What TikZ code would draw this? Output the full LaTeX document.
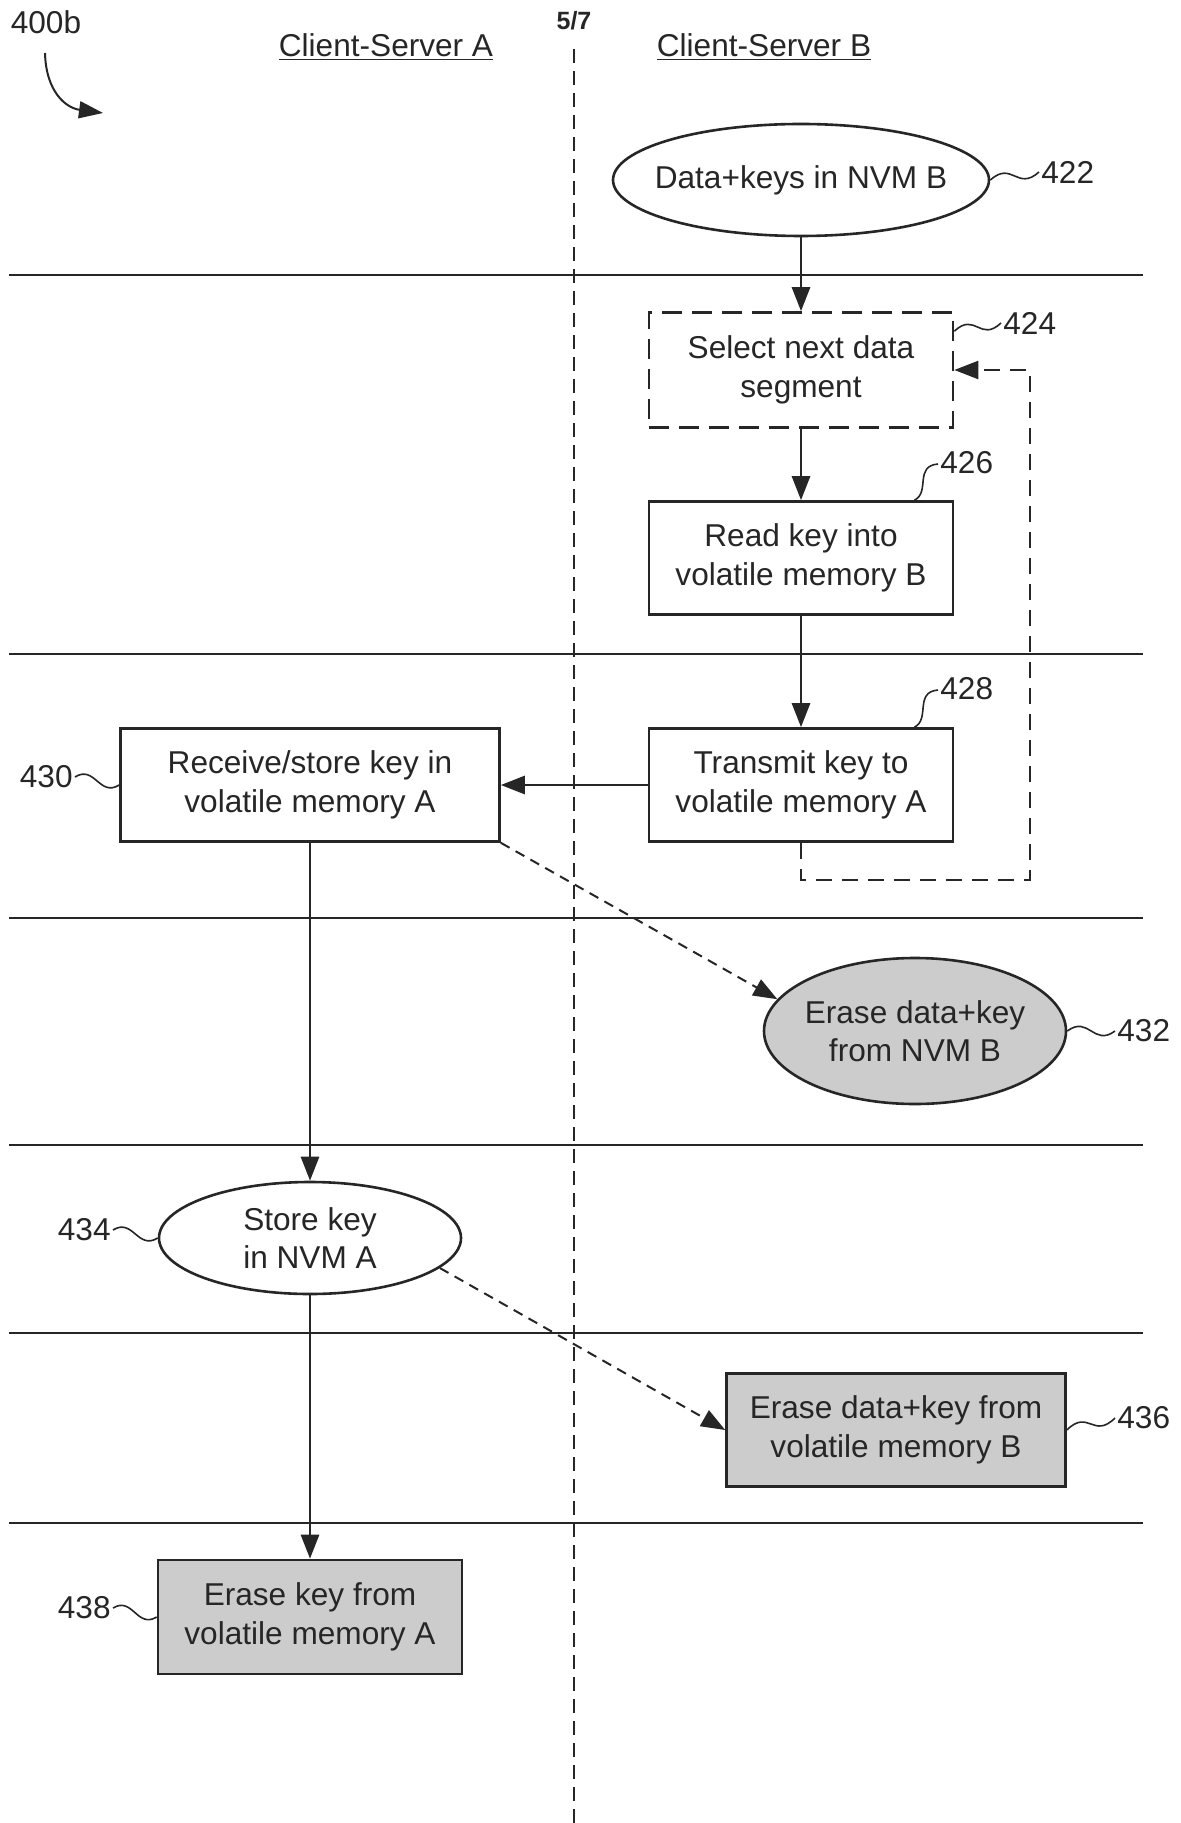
\documentclass[tikz,border=0pt]{standalone}
\usepackage{fontspec}
\setmainfont{Liberation Sans}
\usetikzlibrary{arrows.meta,shapes.geometric,calc}
\begin{document}
\begin{tikzpicture}[x=0.5pt,y=-0.5pt,
  every node/.style={font=\fontsize{15.8}{19.2}\selectfont, text=black!85, align=center},
  box/.style={draw=black!85, line width=1.3pt, rectangle, inner sep=0pt, minimum height=56.5pt},
  oval/.style={draw=black!85, line width=1.3pt, ellipse, inner xsep=-10pt, inner ysep=0pt},
  shaded/.style={fill=gray!40},
  flow/.style={draw=black!85, line width=1.4pt, -{Triangle[length=12pt,width=9pt]}},
  dflow/.style={draw=black!85, line width=1pt, dash pattern=on 5pt off 3.5pt, -{Triangle[length=12pt,width=9pt]}},
  loopflow/.style={draw=black!85, line width=1.2pt, dash pattern=on 8pt off 5pt, -{Triangle[length=12pt,width=9pt]}},
  sep/.style={draw=black!85, line width=1.1pt},
  lane/.style={draw=black!85, line width=0.6pt, dash pattern=on 7pt off 4pt},
  squig/.style={draw=black!85, line width=0.8pt},
  tag/.style={inner sep=0pt}
]
\useasboundingbox (0,0) rectangle (1180,1823);

% headers
\node[tag] (t400) at (46,22) {400b};
\node[tag] (pg) at (574,21) {\fontsize{12.5}{14}\selectfont\bfseries 5/7};
\node[tag] (hA) at (386,47) {\underline{Client-Server A}};
\node[tag] (hB) at (764,47) {\underline{Client-Server B}};
\coordinate (a400s) at (45,53);
\coordinate (a400e) at (103,113);
\draw[flow, line width=1pt, -{Triangle[length=12pt,width=8.5pt]}] (a400s) .. controls (46,92) and (66,108) .. (a400e);

% lanes
\coordinate (laneT) at (574,49);
\coordinate (laneB) at (574,1823);
\draw[lane] (laneT) -- (laneB);
\foreach \yy in {275,654,918,1145,1333,1523} {
  \draw[sep] (9,\yy) -- (1143,\yy);
}

% nodes
\node[oval, fill=white, minimum width=188pt, minimum height=56pt] (n422) at (801,180) {Data+keys in NVM B};
\node[box, fill=white, dash pattern=on 10pt off 5pt, minimum width=152pt, minimum height=57.5pt] (n424) at (801,370) {Select next data\\segment};
\node[box, fill=white, minimum width=152pt] (n426) at (801,558) {Read key into\\volatile memory B};
\node[box, fill=white, minimum width=152pt] (n428) at (801,785) {Transmit key to\\volatile memory A};
\node[box, fill=white, minimum width=189.5pt] (n430) at (310,785) {Receive/store key in\\volatile memory A};
\node[oval, shaded, minimum width=151pt, minimum height=73pt] (n432) at (915,1031) {Erase data+key\\from NVM B};
\node[oval, fill=white, minimum width=151pt, minimum height=56pt] (n434) at (310,1238) {Store key\\in NVM A};
\node[box, shaded, minimum width=169.5pt] (n436) at (896,1430) {Erase data+key from\\volatile memory B};
\node[box, shaded, minimum width=152pt, minimum height=57pt] (n438) at (310,1617) {Erase key from\\volatile memory A};

% reference labels
\node[tag, anchor=west] (l422) at (1041,172) {422};
\node[tag, anchor=west] (l424) at (1003,323) {424};
\node[tag, anchor=west] (l426) at (940,463) {426};
\node[tag, anchor=west] (l428) at (940,689) {428};
\node[tag, anchor=east] (l430) at (73,777) {430};
\node[tag, anchor=west] (l432) at (1117,1031) {432};
\node[tag, anchor=east] (l434) at (111,1230) {434};
\node[tag, anchor=west] (l436) at (1117,1418) {436};
\node[tag, anchor=east] (l438) at (111,1608) {438};

\newcommand\wavy[2]{\draw[squig] (#1) .. controls ($(#1)!0.45!(#2)+(0,-16)$) and ($(#1)!0.55!(#2)+(0,16)$) .. (#2);}
\coordinate (s422) at ($(l422.west)+(-2,0)$);
\wavy{n422.east}{s422}
\coordinate (s424a) at ($(n424.north east)+(0,20)$);
\coordinate (s424b) at ($(l424.west)+(-2,0)$);
\wavy{s424a}{s424b}
\coordinate (s426a) at ($(n426.north west)!0.87!(n426.north east)$);
\coordinate (s426b) at ($(l426.west)+(-2,1)$);
\draw[squig] (s426a) .. controls ($(s426a)+(16,-8)$) and ($(s426b)+(-24,2)$) .. (s426b);
\coordinate (s428a) at ($(n428.north west)!0.87!(n428.north east)$);
\coordinate (s428b) at ($(l428.west)+(-2,1)$);
\draw[squig] (s428a) .. controls ($(s428a)+(16,-8)$) and ($(s428b)+(-24,2)$) .. (s428b);
\coordinate (s430) at ($(l430.east)+(2,0)$);
\wavy{s430}{n430.west}
\coordinate (s432) at ($(l432.west)+(-2,0)$);
\wavy{n432.east}{s432}
\coordinate (s434) at ($(l434.east)+(2,0)$);
\wavy{s434}{n434.west}
\coordinate (s436) at ($(l436.west)+(-2,0)$);
\wavy{n436.east}{s436}
\coordinate (s438) at ($(l438.east)+(2,0)$);
\wavy{s438}{n438.west}

% connectors
\draw[flow] (n422.south) -- (n424.north);
\draw[flow] (n424.south) -- (n426.north);
\draw[flow] (n426.south) -- (n428.north);
\draw[flow] (n428.west) -- (n430.east);
\draw[flow] (n430.south) -- (n434.north);
\draw[flow] (n434.south) -- (n438.north);
\coordinate (lp1) at (801,880);
\coordinate (lp2) at (1030,880);
\coordinate (lp3) at (1030,370);
\draw[loopflow] (n428.south) -- (lp1) -- (lp2) -- (lp3) -- (n424.east);
\draw[dflow] (n430.south east) -- (n432.167);
\draw[dflow] (n434.-13) -- (n436.west);
\end{tikzpicture}
\end{document}
